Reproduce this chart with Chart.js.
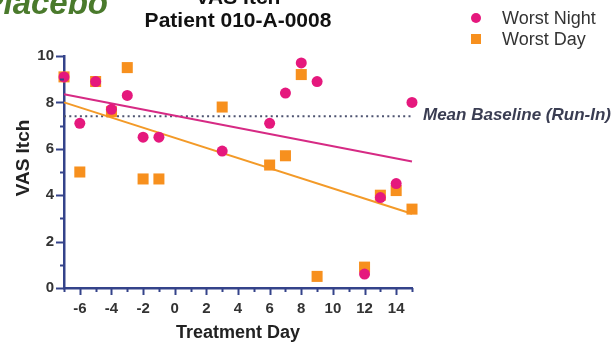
<!DOCTYPE html>
<html>
<head>
<meta charset="utf-8">
<script src="https://cdn.jsdelivr.net/npm/chart.js@4.4.1/dist/chart.umd.min.js"></script>
<style>
  html, body { margin: 0; padding: 0; background: #ffffff; }
  canvas { display: block; }
</style>
</head>
<body>
<canvas id="chart" width="612" height="344"></canvas>
<script>
// VAS itch scores per treatment day
const nightDays = [-7, -6, -5, -4, -3, -2, -1, 3, 6, 7, 8, 9, 12, 13, 14, 15];
const nightVAS  = [9.1, 7.1, 8.9, 7.7, 8.3, 6.5, 6.5, 5.9, 7.1, 8.4, 9.7, 8.9, 0.6, 3.9, 4.5, 8.0];
const dayDays   = [-7, -6, -5, -4, -3, -2, -1, 3, 6, 7, 8, 9, 12, 13, 14, 15];
const dayVAS    = [9.1, 5.0, 8.9, 7.6, 9.5, 4.7, 4.7, 7.8, 5.3, 5.7, 9.2, 0.5, 0.9, 4.0, 4.2, 3.4];

// Linear trend end points and run-in baseline
const trendDays  = [-7, 15];
const nightTrend = [8.35, 5.45];
const dayTrend   = [8.0, 3.2];
const baselineDays = [-7, 15];
const baselineVAS  = [7.4, 7.4];

// Axis ticks
const xTickLabels = [-6, -4, -2, 0, 2, 4, 6, 8, 10, 12, 14];
const yTickLabels = [0, 2, 4, 6, 8, 10];

const seriesNames = ['Worst Night', 'Worst Day'];
const PINK = '#e5187d';
const ORANGE = '#f7901e';
const AXIS = '#34438a';
const TEXT = '#333333';
const FONT = '"Liberation Sans", Arial, Helvetica, sans-serif';

const pts = (xs, ys) => xs.map((x, i) => ({ x: x, y: ys[i] }));

// Tick marks (major + minor), headings, legend and baseline label
const decorations = {
  id: 'decorations',
  afterDraw(chart) {
    const ctx = chart.ctx;
    const xs = chart.scales.x, ys = chart.scales.y;
    const area = chart.chartArea;
    ctx.save();
    ctx.strokeStyle = AXIS;
    ctx.lineWidth = 2;
    for (let v = Math.ceil(xs.min); v <= xs.max; v++) {
      const px = Math.round(xs.getPixelForValue(v)) + 0.5;
      const len = (v % 2 === 0) ? 7 : 4;
      ctx.beginPath();
      ctx.moveTo(px, area.bottom);
      ctx.lineTo(px, area.bottom + len);
      ctx.stroke();
    }
    for (let v = ys.min; v <= ys.max; v++) {
      const py = Math.round(ys.getPixelForValue(v)) + 0.5;
      const len = (v % 2 === 0) ? 8 : 4;
      ctx.beginPath();
      ctx.moveTo(area.left, py);
      ctx.lineTo(area.left - len, py);
      ctx.stroke();
    }

    // Study arm label
    ctx.fillStyle = '#4a7a2c';
    ctx.font = 'italic bold 33px ' + FONT;
    ctx.textBaseline = 'alphabetic';
    ctx.textAlign = 'right';
    ctx.fillText('Placebo', 108, 14);

    // Chart heading
    ctx.fillStyle = '#111111';
    ctx.font = 'bold 21px ' + FONT;
    ctx.textAlign = 'center';
    ctx.fillText('VAS Itch', 238, 4);
    ctx.fillText('Patient 010-A-0008', 238, 27);

    // Axis titles
    ctx.fillStyle = '#222222';
    ctx.font = 'bold 18px ' + FONT;
    ctx.textBaseline = 'alphabetic';
    ctx.fillText('Treatment Day', (area.left + area.right) / 2, 338);
    ctx.save();
    ctx.translate(29, 158);
    ctx.rotate(-Math.PI / 2);
    ctx.font = 'bold 19px ' + FONT;
    ctx.fillText('VAS Itch', 0, 0);
    ctx.restore();

    // Baseline label
    ctx.fillStyle = '#3a3d52';
    ctx.font = 'italic bold 17px ' + FONT;
    ctx.textAlign = 'left';
    ctx.textBaseline = 'middle';
    ctx.fillText('Mean Baseline (Run-In)', 423, ys.getPixelForValue(baselineVAS[0]) - 1);

    // Legend
    ctx.font = '18px ' + FONT;
    ctx.fillStyle = '#333333';
    ctx.fillText(seriesNames[0], 502, 19);
    ctx.fillText(seriesNames[1], 502, 40);
    ctx.fillStyle = PINK;
    ctx.beginPath();
    ctx.arc(476, 18, 5, 0, Math.PI * 2);
    ctx.fill();
    ctx.fillStyle = ORANGE;
    ctx.fillRect(471, 34, 10, 10);
    ctx.restore();
  }
};

new Chart(document.getElementById('chart'), {
  type: 'scatter',
  data: {
    datasets: [
      {
        label: 'baseline',
        data: pts(baselineDays, baselineVAS),
        showLine: true,
        borderColor: '#4d5370',
        borderWidth: 2,
        borderDash: [2, 3.3],
        pointRadius: 0,
        clip: false,
        order: 5
      },
      {
        label: 'night trend',
        data: pts(trendDays, nightTrend),
        showLine: true,
        borderColor: '#d62a84',
        borderWidth: 2,
        pointRadius: 0,
        clip: false,
        order: 4
      },
      {
        label: 'day trend',
        data: pts(trendDays, dayTrend),
        showLine: true,
        borderColor: '#f39a28',
        borderWidth: 2,
        pointRadius: 0,
        clip: false,
        order: 3
      },
      {
        label: seriesNames[1],
        data: pts(dayDays, dayVAS),
        pointStyle: 'rect',
        pointRadius: 7.8,
        backgroundColor: ORANGE,
        borderWidth: 0,
        clip: false,
        order: 2
      },
      {
        label: seriesNames[0],
        data: pts(nightDays, nightVAS),
        pointStyle: 'circle',
        pointRadius: 5.5,
        backgroundColor: PINK,
        borderWidth: 0,
        clip: false,
        order: 1
      }
    ]
  },
  options: {
    responsive: false,
    animation: false,
    devicePixelRatio: 1,
    layout: { padding: { left: 0, top: 56, right: 200, bottom: 0 } },
    plugins: {
      legend: { display: false },
      tooltip: { enabled: false }
    },
    scales: {
      x: {
        type: 'linear',
        min: -7,
        max: 15,
        afterBuildTicks: (s) => { s.ticks = xTickLabels.map(v => ({ value: v })); },
        afterFit: (s) => { s.height = 56; },
        grid: { display: false },
        border: { display: true, color: AXIS, width: 2.5 },
        ticks: {
          autoSkip: false,
          maxRotation: 0,
          padding: 4,
          color: TEXT,
          font: { family: FONT, size: 15, weight: 'bold' }
        }
      },
      y: {
        type: 'linear',
        min: 0,
        max: 10,
        afterBuildTicks: (s) => { s.ticks = yTickLabels.map(v => ({ value: v })); },
        afterFit: (s) => { s.width = 64; },
        grid: { display: false },
        border: { display: true, color: AXIS, width: 2.5 },
        ticks: {
          padding: 2,
          color: TEXT,
          font: { family: FONT, size: 15, weight: 'bold' }
        }
      }
    }
  },
  plugins: [decorations]
});
</script>
</body>
</html>
